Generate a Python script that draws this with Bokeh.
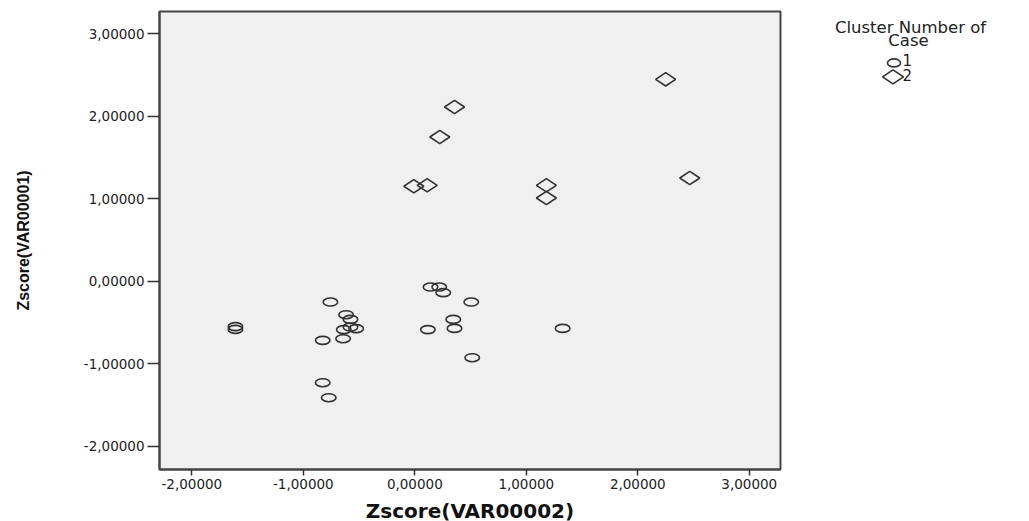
import numpy as np
from bokeh.plotting import figure
from bokeh.models import Range1d, FixedTicker, CustomJSTickFormatter
from bokeh.layouts import row
from bokeh.embed import file_html
from bokeh.resources import INLINE
from bokeh.core.properties import value

# ---- data ----
cluster1_x = [-1.609, -1.609, -0.757, -0.616, -0.577, -0.637, -0.577, -0.526,
              -0.826, -0.643, -0.826, -0.772, 0.141, 0.219, 0.255, 0.506,
              0.345, 0.356, 0.117, 0.515, 1.326]
cluster1_y = [-0.549, -0.582, -0.251, -0.404, -0.461, -0.585, -0.554, -0.573,
              -0.715, -0.695, -1.228, -1.410, -0.069, -0.069, -0.137, -0.251,
              -0.461, -0.570, -0.585, -0.925, -0.570]
cluster2_x = [2.250, 0.356, 0.224, -0.009, 0.111, 1.180, 1.180, 2.466]
cluster2_y = [2.448, 2.113, 1.749, 1.152, 1.164, 1.164, 1.010, 1.252]

x_ticks = [-2, -1, 0, 1, 2, 3]
y_ticks = [-2, -1, 0, 1, 2, 3]
x_title = "Zscore(VAR00002)"
y_title = "Zscore(VAR00001)"
legend_title_lines = ["Cluster Number of", "Case"]
cluster_labels = ["1", "2"]

INK = "#333333"
TXT = "#222222"

p = figure(frame_width=621, frame_height=458,
           x_range=Range1d(-2.29, 3.28), y_range=Range1d(-2.28, 3.27),
           output_backend="svg", toolbar_location=None,
           min_border_left=159, min_border_right=10,
           min_border_top=11, min_border_bottom=51)
p.background_fill_color = "#f0f0f0"
p.border_fill_color = "white"
p.grid.visible = False
p.outline_line_color = "#444444"
p.outline_line_width = 2

fmt = CustomJSTickFormatter(code="return tick.toFixed(5).replace('.', ',');")

p.xaxis.ticker = FixedTicker(ticks=x_ticks)
p.yaxis.ticker = FixedTicker(ticks=y_ticks)
p.xaxis.formatter = fmt
p.yaxis.formatter = fmt
for ax in (p.xaxis, p.yaxis):
    ax.minor_tick_line_color = None
    ax.major_tick_in = 0
    ax.axis_line_color = "#444444"
    ax.axis_line_width = 2
    ax.major_tick_line_color = "#333333"
    ax.major_tick_line_width = 1.5
    ax.major_label_text_font = "DejaVu Sans"
    ax.major_label_text_font_size = "13.5px"
    ax.major_label_text_color = TXT
    ax.axis_label_text_color = "#111111"
    ax.axis_label_text_font_style = "bold"

p.xaxis.major_tick_out = 6
p.xaxis.major_label_standoff = 3
p.xaxis.axis_label = x_title
p.xaxis.axis_label_text_font = "DejaVu Sans"
p.xaxis.axis_label_text_font_size = "20px"
p.xaxis.axis_label_standoff = 7

p.yaxis.major_tick_out = 12
p.yaxis.major_label_standoff = 3
p.yaxis.axis_label = y_title
p.yaxis.axis_label_text_font = "Liberation Sans"
p.yaxis.axis_label_text_font_size = "16px"
p.yaxis.axis_label_standoff = 49

p.ellipse(x=cluster1_x, y=cluster1_y, width=14.5, height=8,
          width_units="screen", height_units="screen",
          fill_color=None, line_color=INK, line_width=1.6)
p.scatter(x=cluster2_x, y=cluster2_y, marker="diamond", size=20, angle=np.pi / 2,
          fill_color=None, line_color=INK, line_width=1.6)

# ---- legend panel ----
LW = 1029 - 790
lg = figure(width=LW, height=520, x_range=Range1d(0, LW), y_range=Range1d(520, 0),
            x_axis_type=None, y_axis_type=None, min_border=0,
            output_backend="svg", toolbar_location=None)
lg.outline_line_color = None
lg.grid.visible = False
lg.background_fill_color = "white"
lg.border_fill_color = "white"

lg.text(x=[120, 118], y=[18, 33], text=legend_title_lines,
        text_align="center", text_baseline="middle",
        text_font=value("DejaVu Sans"), text_font_size="16.5px", text_color=TXT)
lg.ellipse(x=[103.5], y=[59], width=13, height=8,
           width_units="screen", height_units="screen",
           fill_color=None, line_color=INK, line_width=1.6)
lg.scatter(x=[102.5], y=[75], marker="diamond", size=21, angle=np.pi / 2,
           fill_color=None, line_color=INK, line_width=1.6)
lg.text(x=[112, 112], y=[56, 73], text=cluster_labels,
        text_align="left", text_baseline="middle",
        text_font=value("DejaVu Sans"), text_font_size="15px", text_color=TXT)

layout = row(p, lg)
open("out.html", "w").write(file_html(layout, INLINE))
